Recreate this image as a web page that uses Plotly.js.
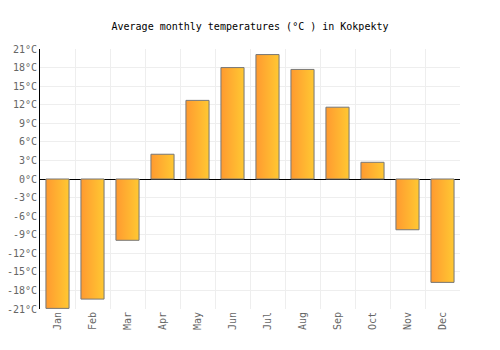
<!DOCTYPE html>
<html>
<head>
<meta charset="utf-8">
<script src="https://cdn.plot.ly/plotly-3.0.1.min.js"></script>
<style>html,body{margin:0;padding:0;background:#fff;}#chart{width:500px;height:350px;}</style>
</head>
<body>
<div id="chart"></div>
<script>
var months = ["Jan","Feb","Mar","Apr","May","Jun","Jul","Aug","Sep","Oct","Nov","Dec"];
var temps = [-20.9, -19.4, -9.9, 4.0, 12.7, 18.0, 20.1, 17.7, 11.6, 2.7, -8.2, -16.7];
var yTicks = [-21,-18,-15,-12,-9,-6,-3,0,3,6,9,12,15,18,21];
var yTickLabels = yTicks.map(function(v){ return v + "°C"; });

var font = "DejaVu Sans Mono, monospace";
var data = [{
  type: "bar",
  x: months,
  y: temps,
  marker: {color: "#ffb030", line: {color: "#777777", width: 1}},
  hoverinfo: "none"
}];
var layout = {
  width: 500, height: 350,
  margin: {l: 40, r: 40, t: 49, b: 41},
  paper_bgcolor: "#fff", plot_bgcolor: "#fff",
  showlegend: false,
  bargap: 0.34,
  title: {text: "Average monthly temperatures (°C ) in Kokpekty", font: {family: font, size: 10, color: "#000"}, x: 0.5, xanchor: "center", y: 0.925, yanchor: "middle"},
  xaxis: {
    type: "category", tickson: "boundaries", showgrid: true, gridcolor: "#eeeeee", gridwidth: 1,
    tickangle: -90, tickfont: {family: font, size: 10, color: "#666"},
    ticks: "", showline: false, zeroline: false, fixedrange: true
  },
  yaxis: {
    range: [-21, 21], tickvals: yTicks, ticktext: yTickLabels,
    tickfont: {family: font, size: 10, color: "#666"},
    showgrid: true, gridcolor: "#eeeeee", gridwidth: 1,
    zeroline: true, zerolinecolor: "#000", zerolinewidth: 1,
    showline: true, linecolor: "#000", linewidth: 1, ticks: "", fixedrange: true
  }
};
Plotly.newPlot("chart", data, layout, {staticPlot: true, displayModeBar: false}).then(function(gd){
  var svg = gd.querySelector("svg.main-svg");
  var ns = "http://www.w3.org/2000/svg";
  var defs = svg.querySelector("defs") || svg.insertBefore(document.createElementNS(ns, "defs"), svg.firstChild);
  var g = document.createElementNS(ns, "linearGradient");
  g.setAttribute("id", "barGrad");
  g.setAttribute("x1", "0"); g.setAttribute("y1", "0"); g.setAttribute("x2", "1"); g.setAttribute("y2", "0");
  [["0", "#ff9a30"], ["1", "#ffc832"]].forEach(function(s){
    var st = document.createElementNS(ns, "stop");
    st.setAttribute("offset", s[0]); st.setAttribute("stop-color", s[1]);
    g.appendChild(st);
  });
  defs.appendChild(g);
  gd.querySelectorAll(".bars .point path").forEach(function(p){ p.style.fill = "url(#barGrad)"; });
});
</script>
</body>
</html>
